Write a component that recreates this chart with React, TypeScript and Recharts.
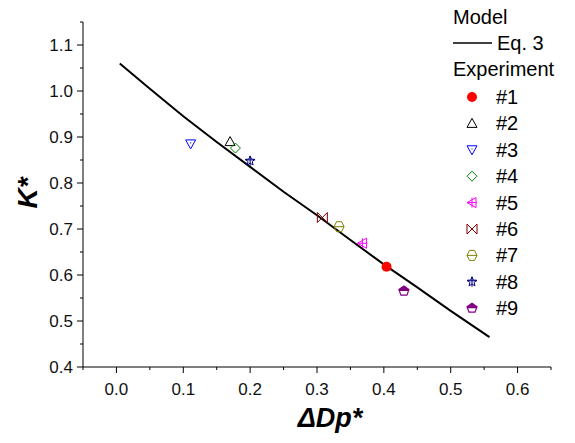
import React from "react";
import { ScatterChart, Scatter, XAxis, YAxis } from "recharts";

// Model curve (Eq. 3)
const modelX = [0.005, 0.05, 0.1, 0.15, 0.2, 0.25, 0.3, 0.35, 0.4, 0.45, 0.5, 0.558];
const modelY = [1.06, 1.005, 0.945, 0.889, 0.835, 0.781, 0.73, 0.676, 0.623, 0.573, 0.522, 0.465];

// Experiments #1..#9
const expNames = ["#1", "#2", "#3", "#4", "#5", "#6", "#7", "#8", "#9"];
const expX = [0.404, 0.17, 0.111, 0.178, 0.368, 0.308, 0.333, 0.2, 0.43];
const expY = [0.618, 0.89, 0.885, 0.876, 0.669, 0.725, 0.705, 0.848, 0.565];
const expColors = ["#ff0000", "#000000", "#0000ff", "#008000", "#ff00ff", "#800000", "#808000", "#000080", "#800080"];
const expShapes = ["circle", "triUp", "triDown", "diamond", "triLeft", "bowtie", "hexLine", "star", "pentagon"];

const xTicks = [-0.05, 0, 0.05, 0.1, 0.15, 0.2, 0.25, 0.3, 0.35, 0.4, 0.45, 0.5, 0.55, 0.6, 0.65];
const yTicks = [0.4, 0.45, 0.5, 0.55, 0.6, 0.65, 0.7, 0.75, 0.8, 0.85, 0.9, 0.95, 1.0, 1.05, 1.1, 1.15];

const modelData = modelX.map((x, i) => ({ x, y: modelY[i] }));
const FONT = "'Liberation Sans', Arial, sans-serif";

const isMajor = (v: number) => Math.abs(v * 10 - Math.round(v * 10)) < 1e-6;

const Marker = ({ kind, color, cx, cy }: { kind: string; color: string; cx: number; cy: number }) => {
  const s = 5;
  const common = { fill: "none", stroke: color, strokeWidth: 1 };
  switch (kind) {
    case "circle":
      return <circle cx={cx} cy={cy} r={s} fill={color} />;
    case "triUp":
      return <polygon points={`${cx},${cy - s} ${cx + s},${cy + 4} ${cx - s},${cy + 4}`} {...common} />;
    case "triDown":
      return (
        <g>
          <polygon points={`${cx - s},${cy - 4} ${cx + s},${cy - 4} ${cx},${cy + s}`} {...common} />
          <circle cx={cx} cy={cy - 1} r={0.6} fill={color} />
        </g>
      );
    case "diamond":
      return <polygon points={`${cx},${cy - s} ${cx + s},${cy} ${cx},${cy + s} ${cx - s},${cy}`} {...common} />;
    case "triLeft":
      return (
        <g {...common}>
          <polygon points={`${cx - s},${cy} ${cx + 4},${cy - s} ${cx + 4},${cy + s}`} />
          <line x1={cx} y1={cy - s} x2={cx} y2={cy + s} />
          <line x1={cx - s} y1={cy} x2={cx + s} y2={cy} />
        </g>
      );
    case "bowtie":
      return <path d={`M${cx - s},${cy - s}L${cx + s},${cy + s}L${cx + s},${cy - s}L${cx - s},${cy + s}Z`} {...common} />;
    case "hexLine":
      return (
        <g {...common}>
          <polygon
            points={`${cx - 2.5},${cy - s} ${cx + 2.5},${cy - s} ${cx + s},${cy} ${cx + 2.5},${cy + s} ${cx - 2.5},${cy + s} ${cx - s},${cy}`}
          />
          <line x1={cx - s} y1={cy} x2={cx + s} y2={cy} />
        </g>
      );
    case "star": {
      const pts: string[] = [];
      for (let k = 0; k < 10; k++) {
        const r = k % 2 === 0 ? s : 2.2;
        const a = -Math.PI / 2 + (k * Math.PI) / 5;
        pts.push(`${cx + r * Math.cos(a)},${cy + r * Math.sin(a)}`);
      }
      return (
        <g {...common}>
          <polygon points={pts.join(" ")} />
          <line x1={cx} y1={cy - s} x2={cx} y2={cy + s} />
          <line x1={cx - s} y1={cy - 1} x2={cx + s} y2={cy - 1} />
        </g>
      );
    }
    case "pentagon":
      return (
        <g>
          <polygon
            points={`${cx},${cy - s} ${cx + s},${cy - 1.5} ${cx + 3},${cy + 4} ${cx - 3},${cy + 4} ${cx - s},${cy - 1.5}`}
            fill="#fff"
            stroke={color}
            strokeWidth={1.2}
          />
          <polygon points={`${cx},${cy - s} ${cx + s},${cy - 1.5} ${cx + s},${cy} ${cx - s},${cy} ${cx - s},${cy - 1.5}`} fill={color} />
        </g>
      );
    default:
      return null;
  }
};

const XTick = (props: any) => {
  const { x, y, payload } = props;
  const v = payload.value;
  const major = isMajor(v);
  return (
    <g>
      <line x1={x} x2={x} y1={y} y2={y + (major ? 6 : 3)} stroke="#000" />
      {major && (
        <text x={x} y={y + 28} textAnchor="middle" fontSize={17} fontFamily={FONT} fill="#111">
          {v.toFixed(1)}
        </text>
      )}
    </g>
  );
};

const YTick = (props: any) => {
  const { x, y, payload } = props;
  const v = payload.value;
  const major = isMajor(v);
  return (
    <g>
      <line x1={x - (major ? 6 : 3)} x2={x} y1={y} y2={y} stroke="#000" />
      {major && (
        <text x={x - 10} y={y} textAnchor="end" dominantBaseline="central" fontSize={17} fontFamily={FONT} fill="#111">
          {v.toFixed(1)}
        </text>
      )}
    </g>
  );
};

const legendTop = 97;
const legendStep = 26.4;

export default function App() {
  return (
    <div style={{ position: "absolute", left: 0, top: 0, width: 575, height: 443, background: "#fff" }}>
      <ScatterChart width={575} height={443} margin={{ top: 22, right: 24, bottom: 0, left: 0 }}>
        <XAxis
          type="number"
          dataKey="x"
          domain={[-0.05, 0.65]}
          ticks={xTicks}
          interval={0}
          allowDataOverflow
          height={76}
          tickLine={false}
          tickSize={0}
          tickMargin={0}
          tick={<XTick />}
          axisLine={{ stroke: "#000", strokeWidth: 1 }}
        />
        <YAxis
          type="number"
          dataKey="y"
          domain={[0.4, 1.15]}
          ticks={yTicks}
          interval={0}
          allowDataOverflow
          width={83}
          tickLine={false}
          tickSize={0}
          tickMargin={0}
          tick={<YTick />}
          axisLine={{ stroke: "#000", strokeWidth: 1 }}
        />
        <Scatter
          data={modelData}
          line={{ stroke: "#000", strokeWidth: 2 }}
          lineType="joint"
          shape={() => <g />}
          isAnimationActive={false}
        />
        {expNames.map((name, i) => (
          <Scatter
            key={name}
            name={name}
            data={[{ x: expX[i], y: expY[i] }]}
            isAnimationActive={false}
            shape={(p: any) => <Marker kind={expShapes[i]} color={expColors[i]} cx={p.cx} cy={p.cy} />}
          />
        ))}
      </ScatterChart>
      <svg width={575} height={443} style={{ position: "absolute", left: 0, top: 0, pointerEvents: "none" }}>
        <text
          transform="translate(37,193) rotate(-90)"
          textAnchor="middle"
          fontSize={28}
          fontWeight="bold"
          fontStyle="italic"
          fontFamily={FONT}
        >
          K*
        </text>
        <text x={330} y={427} textAnchor="middle" fontSize={27} fontWeight="bold" fontStyle="italic" fontFamily={FONT}>
          ΔDp*
        </text>
        <g fontFamily={FONT} fontSize={20} fill="#000">
          <text x={453} y={17} dominantBaseline="central">Model</text>
          <line x1={453} x2={492} y1={43} y2={43} stroke="#000" strokeWidth={1.5} />
          <text x={497} y={43} dominantBaseline="central">Eq. 3</text>
          <text x={453} y={69} dominantBaseline="central">Experiment</text>
          {expNames.map((name, i) => (
            <g key={name}>
              <Marker kind={expShapes[i]} color={expColors[i]} cx={472} cy={legendTop + i * legendStep} />
              <text x={496} y={legendTop + i * legendStep} dominantBaseline="central">
                {name}
              </text>
            </g>
          ))}
        </g>
      </svg>
    </div>
  );
}
